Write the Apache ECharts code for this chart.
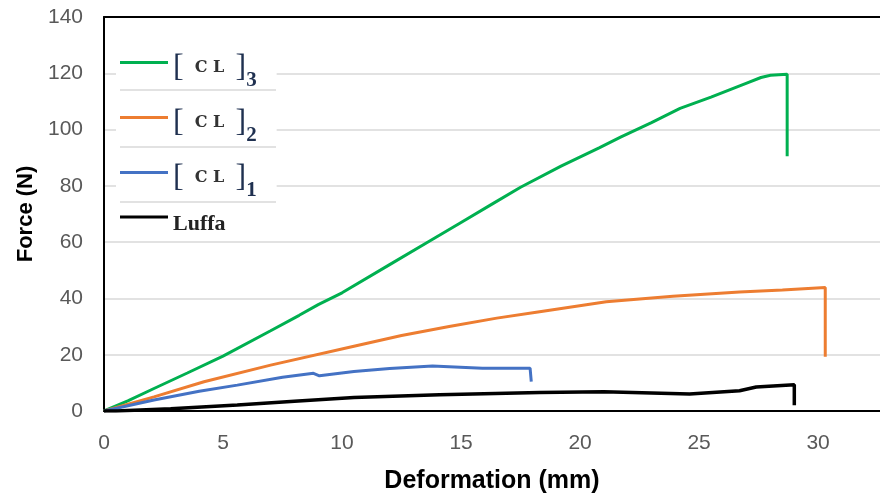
<!DOCTYPE html>
<html>
<head>
<meta charset="utf-8">
<script src="https://cdn.jsdelivr.net/npm/echarts@6/dist/echarts.min.js"></script>
<style>
  html, body { margin: 0; padding: 0; background: #fff; }
  #chart { width: 880px; height: 495px; }
</style>
</head>
<body>
<div id="chart"></div>
<script>
// [deformation mm, force N]
const cl3 = [[0, 0], [1, 3.6], [2.1, 8], [3.5, 13.5], [5, 19.5], [7, 28.5], [8.2, 34], [9, 37.8],
  [10, 42], [12, 52], [13.7, 60.5], [15, 67], [16.3, 73.5], [17.5, 79.5], [19.2, 87], [20.8, 93.5],
  [21.7, 97.3], [23, 102.5], [24.2, 107.5], [25.5, 111.5], [27, 116.5], [27.6, 118.5], [28, 119.3],
  [28.7, 119.7], [28.7, 90.5]]
const cl2 = [[0, 0], [2.1, 5], [4.2, 10.4], [7, 16.3], [10.5, 23], [12.5, 26.8], [14.5, 30],
  [16.5, 33], [18.3, 35.3], [21.1, 38.8], [23.9, 40.8], [26.7, 42.3], [28.5, 43], [30.3, 43.9], [30.3, 19.3]]
const cl1 = [[0, 0], [2.1, 3.9], [4, 7], [5.6, 9.2], [7.5, 12], [8.8, 13.4], [9.05, 12.5], [10.5, 14],
  [12, 15.1], [13.8, 16], [15.9, 15.2], [17.9, 15.2], [17.95, 10.4]]
const luffa = [[0, 0], [0.5, 0], [2.8, 0.8], [5.6, 2.1], [8, 3.5], [10.5, 4.8], [14.1, 5.8], [18.3, 6.6],
  [21, 6.8], [24.6, 6], [26.7, 7.2], [27.4, 8.5], [29, 9.3], [29, 2]]

const seriesNames = ['[CL]3', '[CL]2', '[CL]1', 'Luffa']
const yTicks = [0, 20, 40, 60, 80, 100, 120, 140]

const chart = echarts.init(document.getElementById('chart'))
const serif = 'Liberation Serif'
const sans = 'Liberation Sans, Arial, sans-serif'

function line(name, data, color, width) {
  return {
    name: name,
    type: 'line',
    data: data,
    symbol: 'none',
    silent: true,
    animation: false,
    lineStyle: { color: color, width: width },
    itemStyle: { color: color }
  }
}

chart.setOption({
  animation: false,
  grid: { left: 104, right: 0, top: 17, bottom: 84, outerBoundsMode: 'none' },
  legend: {
    data: seriesNames,
    orient: 'vertical',
    left: 116,
    top: 38,
    padding: [6, 20, 0, 4],
    itemGap: 8,
    itemWidth: 48,
    itemHeight: 3,
    icon: 'rect',
    backgroundColor: '#fff',
    formatter: function (name) {
      if (name === 'Luffa') return '{lf|Luffa}'
      return '{br|[}{cl|  C L  }{br|]}{sb|' + name.slice(-1) + '}'
    },
    textStyle: {
      padding: [10, 0, 0, 0],
      rich: {
        br: { fontFamily: serif, fontSize: 32, color: '#1f3050', lineHeight: 30 },
        cl: { fontFamily: 'DejaVu Serif', fontSize: 16, fontWeight: 'bold', color: '#333', lineHeight: 30 },
        sb: { fontFamily: serif, fontSize: 21, fontWeight: 'bold', color: '#1f3050', lineHeight: 30, padding: [26, 0, 0, 0] },
        lf: { fontFamily: serif, fontSize: 22, fontWeight: 'bold', color: '#222', lineHeight: 30, padding: [4, 0, 0, 0] }
      }
    }
  },
  graphic: [90, 147, 202].map(function (y) {
    return {
      type: 'line', z: 100,
      shape: { x1: 120, y1: y, x2: 276, y2: y },
      style: { stroke: '#d9d9d9', lineWidth: 1.5 }
    }
  }),
  xAxis: [{
    type: 'value',
    min: 0,
    max: 32.6,
    interval: 5,
    name: 'Deformation (mm)',
    nameLocation: 'middle',
    nameGap: 58,
    nameTextStyle: { fontFamily: sans, fontSize: 25, fontWeight: 'bold', color: '#000' },
    axisLine: { show: true, lineStyle: { color: '#000', width: 2 } },
    axisTick: { show: false },
    splitLine: { show: false },
    axisLabel: {
      margin: 22,
      fontFamily: sans,
      fontSize: 21,
      color: '#595959',
      showMaxLabel: false,
      formatter: function (v) { return v % 5 === 0 ? String(v) : '' }
    }
  }, {
    type: 'value',
    position: 'top',
    min: 0,
    max: 32.6,
    axisLine: { show: true, lineStyle: { color: '#000', width: 2 } },
    axisTick: { show: false },
    axisLabel: { show: false },
    splitLine: { show: false }
  }],
  yAxis: {
    type: 'value',
    min: yTicks[0],
    max: yTicks[yTicks.length - 1],
    interval: 20,
    name: 'Force (N)',
    nameLocation: 'middle',
    nameGap: 62,
    nameTextStyle: { fontFamily: sans, fontSize: 22, fontWeight: 'bold', color: '#000' },
    axisLine: { show: true, lineStyle: { color: '#000', width: 2 } },
    axisTick: { show: false },
    axisLabel: { margin: 21, fontFamily: sans, fontSize: 21, color: '#595959' },
    splitLine: { lineStyle: { color: '#d9d9d9', width: 1.5 } }
  },
  series: [
    line(seriesNames[0], cl3, '#00b050', 3),
    line(seriesNames[1], cl2, '#ed7d31', 3),
    line(seriesNames[2], cl1, '#4472c4', 3),
    line(seriesNames[3], luffa, '#000000', 3.5)
  ]
})
</script>
</body>
</html>
